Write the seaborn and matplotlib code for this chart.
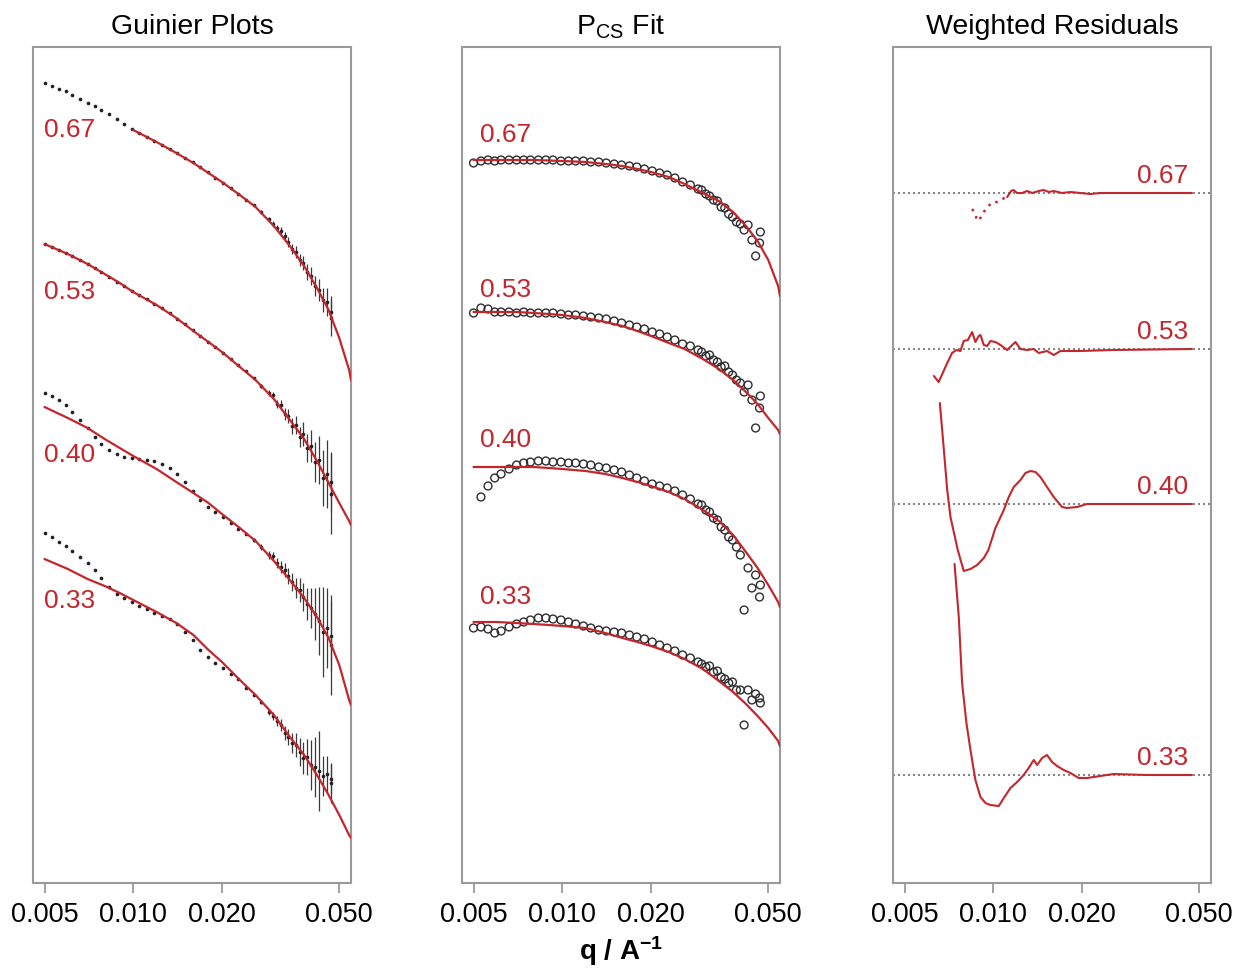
import numpy as np
import pandas as pd
import matplotlib
matplotlib.use("Agg")
import matplotlib.pyplot as plt
from matplotlib.ticker import NullLocator
import seaborn as sns

# ---------------- data (y in arbitrary offset units) ----------------
series_labels = ["0.67", "0.53", "0.40", "0.33"]
nan = np.nan

# measured q grid (shared by Guinier and P_CS data)
q_data = [0.0050, 0.0053, 0.0056, 0.0059, 0.0062, 0.0066, 0.0070, 0.0074, 0.0078, 0.0083,
          0.0088, 0.0093, 0.0099, 0.0105, 0.0111, 0.0118, 0.0125, 0.0133, 0.0141, 0.0150,
          0.0159, 0.0169, 0.0179, 0.0190, 0.0202, 0.0214, 0.0227, 0.0241, 0.0256, 0.0272,
          0.0289, 0.0297, 0.0307, 0.0316, 0.0326, 0.0336, 0.0346, 0.0356, 0.0367, 0.0378,
          0.0390, 0.0402, 0.0414, 0.0427, 0.0440, 0.0453, 0.0467, 0.0470]

# Guinier plots: data
guinier_067 = [800, 797, 794, 792, 788, 784, 780, 777, 773, 769, 764, 759, 754, 750, 746, 742, 738, 734, 730, 725,
               721, 716, 711, 705, 700, 695, 689, 683, 678, 671, 664, 659, 655, 652, 647, 641, 634, 631, 623, 620,
               611, 607, 597, 593, 583, 581, 565, 571]
guinier_053 = [639, 636, 633, 630, 627, 623, 619, 615, 611, 606, 601, 597, 592, 588, 584, 579, 575, 570, 564, 559,
               553, 547, 541, 536, 530, 524, 518, 512, 505, 497, 490, 488, 479, 478, 469, 467, 457, 458, 446, 449,
               435, 437, 421, 423, 405, 409, 389, 401]
guinier_040 = [490, 487, 483, 478, 471, 463, 455, 446, 439, 433, 429, 426, 425, 424, 423, 422, 419, 415, 409, 401,
               392, 383, 376, 371, 366, 360, 354, 349, 343, 336, 328, 327, 320, 316, 313, 307, 301, 295, 293, 286,
               279, 275, 269, 262, 251, 255, 238, 247]
guinier_033 = [350, 346, 341, 337, 332, 326, 320, 313, 305, 296, 289, 285, 281, 277, 274, 270, 267, 264, 259, 251,
               243, 233, 226, 220, 215, 209, 204, 195, 188, 181, 171, 167, 162, 158, 150, 146, 140, 138, 131, 125,
               126, 118, 116, 112, 107, 109, 100, 104]
# Guinier plots: error bars
guinier_err_067 = [0, 0, 0, 0, 0, 0, 0, 0, 0, 0, 0, 0, 0, 0, 0, 0, 0, 0, 0, 0,
                   0, 0, 0, 0, 0, 0, 0, 0, 1, 2, 2, 3, 3, 4, 4, 5, 5, 6, 6, 7,
                   8, 9, 10, 11, 12, 14, 18, 16]
guinier_err_053 = [0, 0, 0, 0, 0, 0, 0, 0, 0, 0, 0, 0, 0, 0, 0, 0, 0, 0, 0, 0,
                   0, 0, 0, 0, 0, 0, 0, 0, 1, 2, 3, 3, 4, 5, 6, 7, 8, 9, 10, 12,
                   14, 16, 20, 24, 28, 34, 40, 30]
guinier_err_040 = [0, 0, 0, 0, 0, 0, 0, 0, 0, 0, 0, 0, 0, 0, 0, 0, 0, 0, 0, 0,
                   0, 0, 0, 0, 0, 0, 0, 1, 2, 3, 4, 4, 5, 6, 7, 8, 9, 10, 12, 14,
                   16, 20, 26, 34, 45, 40, 50, 35]
guinier_err_033 = [0, 0, 0, 0, 0, 0, 0, 0, 0, 0, 0, 0, 0, 0, 0, 0, 0, 0, 0, 0,
                   0, 0, 0, 0, 0, 0, 0, 0, 1, 2, 3, 4, 5, 6, 7, 8, 10, 12, 14, 16,
                   18, 25, 30, 40, 20, 18, 20, 15]

# fit curves (Guinier and P_CS)
q_fit = [0.005, 0.006, 0.007, 0.008, 0.009, 0.010, 0.012, 0.014, 0.016, 0.018, 0.020,
         0.023, 0.026, 0.030, 0.034, 0.038, 0.042, 0.046, 0.050, 0.054, 0.0548]
guinier_fit_067 = [nan, nan, nan, nan, nan, 753, 741, 730, 720, 710, 701, 688, 676, 657, 637, 617, 595, 573, 545, 513, 503]
guinier_fit_053 = [639, 629, 619, 609, 600, 591, 578, 565, 552, 541, 531, 516, 503, 484, 463, 444, 422, 400, 380, 362, 358]
guinier_fit_040 = [476, 465, 455, 444, 435, 427, 414, 401, 390, 380, 369, 355, 342, 322, 303, 285, 266, 245, 218, 183, 178]
guinier_fit_033 = [324, 314, 304, 297, 290, 283, 271, 260, 248, 233, 221, 203, 188, 168, 146, 128, 108, 88, 68, 48, 45]

pcs_fit_067 = [723, 723, 723, 723, 722.5, 722, 721, 719, 717, 714, 711, 706, 699, 690, 682, 671, 657, 642, 623, 597, 587]
pcs_fit_053 = [571, 571, 571, 570, 569, 568, 565, 561, 557, 552, 547, 540, 534, 524, 514, 503, 491, 479, 465, 453, 449]
pcs_fit_040 = [416, 416, 416, 416, 415, 414, 412, 409, 405, 401, 397, 391, 384, 373, 362, 348, 331, 315, 298, 281, 276]
pcs_fit_033 = [261, 261, 260, 259, 258, 257, 255, 250, 245, 241, 237, 231, 224, 214, 202, 191, 179, 167, 155, 142, 137]

# P_CS data
pcs_067 = [720, 722, 723, 722, 723, 723, 723, 723, 723, 723, 723, 723, 722, 722, 722, 722, 721, 721, 720, 719,
           718, 717, 716, 714, 712, 710, 708, 705, 701, 698, 694, 693, 689, 687, 683, 682, 676, 675, 669, 666,
           661, 659, 653, 658, 643, 627, 640, 651]
pcs_053 = [570, 575, 574, 571, 571, 571, 570, 571, 570, 570, 570, 570, 569, 568, 568, 567, 566, 565, 564, 562,
           560, 558, 556, 554, 551, 549, 546, 543, 539, 537, 533, 531, 527, 528, 523, 521, 516, 517, 511, 508,
           503, 500, 491, 498, 483, 455, 475, 487]
pcs_040 = [nan, 386, 397, 405, 409, 414, 418, 420, 421, 422, 422, 421, 421, 420, 420, 419, 418, 416, 415, 413,
           411, 408, 405, 402, 399, 397, 395, 392, 388, 384, 379, 378, 373, 371, 365, 363, 356, 353, 346, 343,
           336, 328, 273, 315, 295, 308, 286, 298]
pcs_033 = [255, 256, 254, 250, 252, 256, 259, 261, 263, 265, 265, 264, 263, 261, 259, 257, 255, 253, 252, 251,
           250, 248, 246, 244, 241, 238, 235, 232, 228, 225, 221, 219, 216, 217, 211, 212, 206, 204, 200, 201,
           193, 193, 158, 193, 183, 189, 185, 180]

# weighted residuals (offset baselines + residual values)
resid_baseline = [690, 534, 379, 108]
resid_q_067 = [0.00848, 0.00864, 0.00877, 0.00893, 0.00929, 0.00954, 0.00999, 0.01031, 0.01072, 0.01115,
               0.01150, 0.01171, 0.01205, 0.01253, 0.01303, 0.01355, 0.01427, 0.01483, 0.01542, 0.01604,
               0.01712, 0.01827, 0.01975, 0.02135, 0.02308, 0.02561, 0.04723]
resid_067 = [-16, -20, -25, -28, -19, -14, -9, -9, -6, -4, 2, 3, 0, 0, 2, 0, 2, 3, 1, 2, 0, 1, 0, -1, 0, 0, 0]
resid_q_053 = [0.00629, 0.00653, 0.00698, 0.00725, 0.00750, 0.00774, 0.00794, 0.00820, 0.00848, 0.00870,
               0.00893, 0.00905, 0.00929, 0.00954, 0.00978, 0.01017, 0.01058, 0.01115, 0.01189, 0.01237,
               0.01303, 0.01372, 0.01427, 0.01522, 0.01604, 0.01690, 0.01975, 0.02561, 0.04723]
resid_053 = [-27, -33, -14, -4, -1, -2, 8, 9, 17, 7, 13, 14, 4, 3, 8, 7, 4, -1, 7, 0, -1, 0, -4, -2, -6, -2, -2, -1, 0]
resid_q_040 = [0.00659, 0.00680, 0.00698, 0.00716, 0.00758, 0.00794, 0.00837, 0.00882, 0.00929, 0.00963,
               0.01017, 0.01086, 0.01129, 0.01174, 0.01237, 0.01286, 0.01337, 0.01391, 0.01445, 0.01522,
               0.01604, 0.01712, 0.01780, 0.01925, 0.02081, 0.04723]
resid_040 = [101, 54, 14, -13, -46, -67, -65, -61, -54, -46, -24, -6, 7, 17, 24, 31, 33, 32, 27, 17, 7, -3, -4, -3, 0, 0]
resid_q_033 = [0.00739, 0.00764, 0.00784, 0.00811, 0.00837, 0.00870, 0.00905, 0.00941, 0.00978, 0.01044,
               0.01086, 0.01144, 0.01205, 0.01268, 0.01319, 0.01372, 0.01409, 0.01465, 0.01522, 0.01584,
               0.01646, 0.01734, 0.01827, 0.01949, 0.02081, 0.02308, 0.02561, 0.03324, 0.04723]
resid_033 = [211, 158, 92, 52, 25, -5, -22, -28, -30, -31, -23, -13, -7, 0, 7, 15, 10, 17, 20, 13, 9, 5, 2, -3, -3, -1, 1, 0, 0]

x_ticks = [0.005, 0.010, 0.020, 0.050]
x_ticklabels = ["0.005", "0.010", "0.020", "0.050"]

# ---------------- style ----------------
sns.set_theme(style="white")
plt.rcParams["font.family"] = ["Liberation Sans", "DejaVu Sans"]
plt.rcParams["mathtext.fontset"] = "custom"
plt.rcParams["mathtext.rm"] = "Liberation Sans"
plt.rcParams["mathtext.bf"] = "Liberation Sans:bold"
plt.rcParams["mathtext.it"] = "Liberation Sans:italic"
plt.rcParams["text.color"] = "black"
plt.rcParams["axes.labelcolor"] = "black"
plt.rcParams["axes.titlecolor"] = "black"
plt.rcParams["xtick.labelcolor"] = "black"

RED = "#C4262E"
FRAME = "#9a9a9a"
DARK = "#222222"

fig = plt.figure(figsize=(12.44, 9.72), dpi=100)
W, H = 1244, 972
lefts = [33, 462, 893]
axes = [fig.add_axes([l / W, 89 / H, 318 / W, 836 / H]) for l in lefts]

for ax in axes:
    ax.set_xscale("log")
    ax.set_xlim(0.00457, 0.0548)
    ax.set_ylim(0, 836)
    ax.set_yticks([])
    ax.set_xticks(x_ticks)
    ax.set_xticklabels(x_ticklabels)
    ax.xaxis.set_minor_locator(NullLocator())
    ax.tick_params(axis="x", direction="out", length=7.5, width=1.3, color=FRAME,
                   labelsize=19.5, pad=6, bottom=True, labelcolor="black")
    for sp in ax.spines.values():
        sp.set_visible(True)
        sp.set_color(FRAME)
        sp.set_linewidth(1.5)
    ax.grid(False)

# ---------------- panel 1: Guinier plots ----------------
ax1 = axes[0]
g_data = [guinier_067, guinier_053, guinier_040, guinier_033]
g_err = [guinier_err_067, guinier_err_053, guinier_err_040, guinier_err_033]
g_fit = [guinier_fit_067, guinier_fit_053, guinier_fit_040, guinier_fit_033]
for y, e in zip(g_data, g_err):
    ax1.errorbar(q_data, y, yerr=e, fmt="none", ecolor="#3a3a3a", elinewidth=0.9, zorder=2)
    sns.scatterplot(x=q_data, y=y, ax=ax1, s=7, color=DARK, marker="o", linewidth=0, zorder=3)
for y in g_fit:
    df = pd.DataFrame({"q": q_fit, "y": y}).dropna()
    sns.lineplot(data=df, x="q", y="y", ax=ax1, color=RED, lw=1.6, estimator=None, sort=False, zorder=4)
for lab, yy in zip(series_labels, [753, 591, 428, 282]):
    ax1.text(0.00497, yy, lab, color=RED, fontsize=19, ha="left", va="center")
ax1.set_title("Guinier Plots", fontsize=20.5, pad=9, color="black")

# ---------------- panel 2: P_CS fit ----------------
ax2 = axes[1]
p_data = [pcs_067, pcs_053, pcs_040, pcs_033]
p_fit = [pcs_fit_067, pcs_fit_053, pcs_fit_040, pcs_fit_033]
for y in p_data:
    df = pd.DataFrame({"q": q_data, "y": y}).dropna()
    sns.scatterplot(data=df, x="q", y="y", ax=ax2, s=32, marker="o", zorder=2)
    coll = ax2.collections[-1]
    coll.set_facecolor("none")
    coll.set_edgecolor("#2e2e2e")
    coll.set_linewidth(1.0)
for y in p_fit:
    sns.lineplot(x=q_fit, y=y, ax=ax2, color=RED, lw=1.6, estimator=None, sort=False, zorder=4)
for lab, yy in zip(series_labels, [748, 593, 443, 286]):
    ax2.text(0.00528, yy, lab, color=RED, fontsize=19, ha="left", va="center")
ax2.set_title(r"P$_{\mathrm{CS}}$ Fit", fontsize=20.5, pad=9, color="black")
ax2.set_xlabel(r"q / A$^{\mathbf{-1}}$", fontsize=20, fontweight="bold", labelpad=5, color="black")

# ---------------- panel 3: weighted residuals ----------------
ax3 = axes[2]
r_q = [resid_q_067, resid_q_053, resid_q_040, resid_q_033]
r_v = [resid_067, resid_053, resid_040, resid_033]
for base in resid_baseline:
    ax3.axhline(base, color="#6e6e6e", lw=1.2, ls=(0, (1.2, 1.8)), zorder=1)
for i, (qq, rv, base) in enumerate(zip(r_q, r_v, resid_baseline)):
    yv = [base + v for v in rv]
    if i == 0:
        # first part of the top trace is broken into dots
        ax3.plot(qq[:10], yv[:10], color=RED, lw=1.8, ls=(0, (1.0, 2.2)), zorder=3)
        sns.lineplot(x=qq[9:], y=yv[9:], ax=ax3, color=RED, lw=1.5, estimator=None, sort=False, zorder=3)
    else:
        sns.lineplot(x=qq, y=yv, ax=ax3, color=RED, lw=1.5, estimator=None, sort=False, zorder=3)
for lab, base in zip(series_labels, resid_baseline):
    ax3.text(0.0459, base + 17, lab, color=RED, fontsize=19, ha="right", va="center")
ax3.set_title("Weighted Residuals", fontsize=20.5, pad=9, color="black")

for ax in axes:
    if ax is not ax2:
        ax.set_xlabel("")
    ax.set_ylabel("")
    if ax.get_legend() is not None:
        ax.get_legend().remove()

fig.savefig("out.png", dpi=100)
